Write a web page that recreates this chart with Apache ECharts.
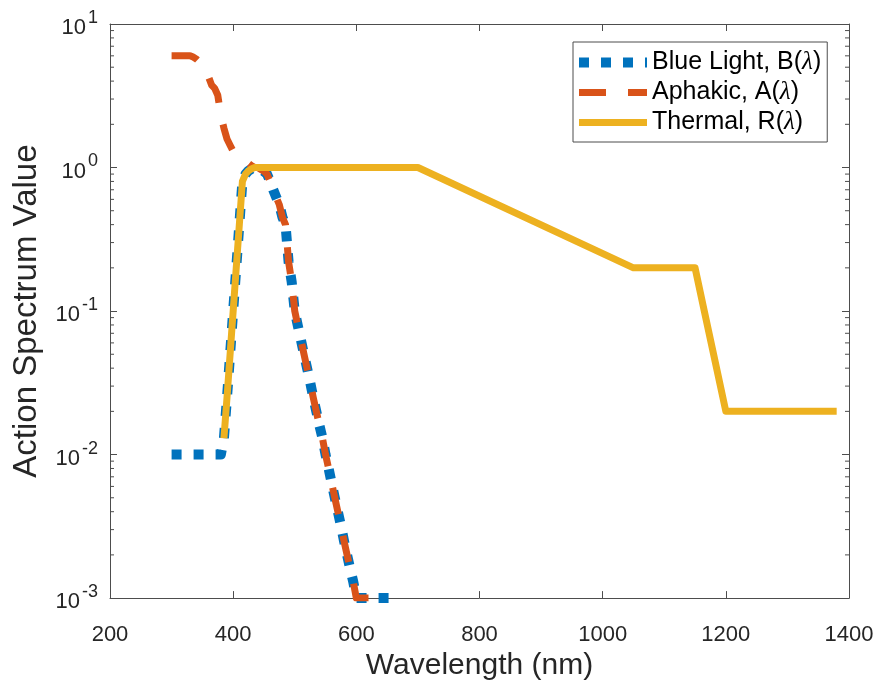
<!DOCTYPE html>
<html>
<head>
<meta charset="utf-8">
<script src="https://cdn.jsdelivr.net/npm/echarts@6/dist/echarts.min.js"></script>
<style>
html,body{margin:0;padding:0;background:#fff;}
#chart{width:881px;height:686px;}
</style>
</head>
<body>
<div id="chart"></div>
<script>
// ---- data ----
const blueName = 'Blue Light, B(λ)';
const aphName = 'Aphakic, A(λ)';
const thermName = 'Thermal, R(λ)';

const blueX = [300, 380, 385, 390, 395, 400, 405, 410, 415, 420, 425, 430, 435, 440, 445, 450, 455, 460, 465, 470, 475, 480, 485, 490, 495, 500, 505, 510, 515, 520, 525, 530, 535, 540, 545, 550, 555, 560, 565, 570, 575, 580, 585, 590, 595, 600, 665];
const blueY = [0.01, 0.01, 0.013, 0.025, 0.05, 0.1, 0.2, 0.4, 0.8, 0.9, 0.95, 0.98, 1.0, 1.0, 0.97, 0.94, 0.9, 0.8, 0.7, 0.62, 0.55, 0.45, 0.4, 0.22, 0.16, 0.1, 0.079, 0.063, 0.05, 0.04, 0.032, 0.025, 0.02, 0.016, 0.013, 0.01, 0.008, 0.0063, 0.005, 0.004, 0.0032, 0.0025, 0.002, 0.0016, 0.0013, 0.001, 0.001];

const aphX = [300, 305, 310, 315, 320, 325, 330, 335, 340, 345, 350, 355, 360, 365, 370, 375, 380, 385, 390, 395, 400, 405, 410, 415, 420, 425, 430, 435, 440, 445, 450, 455, 460, 465, 470, 475, 480, 485, 490, 495, 500, 505, 510, 515, 520, 525, 530, 535, 540, 545, 550, 555, 560, 565, 570, 575, 580, 585, 590, 595, 600, 645];
const aphY = [6.0, 6.0, 6.0, 6.0, 6.0, 6.0, 6.0, 5.88, 5.71, 5.46, 5.22, 4.62, 4.29, 3.75, 3.56, 3.19, 2.31, 1.88, 1.58, 1.43, 1.30, 1.25, 1.20, 1.15, 1.11, 1.07, 1.03, 1.0, 1.0, 0.97, 0.94, 0.9, 0.8, 0.7, 0.62, 0.55, 0.45, 0.4, 0.22, 0.16, 0.1, 0.079, 0.063, 0.05, 0.04, 0.032, 0.025, 0.02, 0.016, 0.013, 0.01, 0.008, 0.0063, 0.005, 0.004, 0.0032, 0.0025, 0.002, 0.0016, 0.0013, 0.001, 0.001];

const thermX = [385, 390, 395, 400, 405, 410, 415, 420, 425, 430, 435, 700, 1050, 1150, 1165, 1185, 1200, 1380];
const thermY = [0.013, 0.025, 0.05, 0.1, 0.2, 0.4, 0.8, 0.9, 0.95, 0.98, 1.0, 1.0, 0.2, 0.2, 0.1, 0.04, 0.02, 0.02];

const xMin = 200, xMax = 1400, xStep = 200;
const yMin = 0.001, yMax = 10;
const minorTickValues = [
  0.002, 0.003, 0.004, 0.005, 0.006, 0.007, 0.008, 0.009,
  0.02, 0.03, 0.04, 0.05, 0.06, 0.07, 0.08, 0.09,
  0.2, 0.3, 0.4, 0.5, 0.6, 0.7, 0.8, 0.9,
  2, 3, 4, 5, 6, 7, 8, 9
];

// ---- chart ----
const FONT = '"Liberation Sans", Arial, Helvetica, sans-serif';
const AXIS_COLOR = '#4d4d4d';
const TEXT_COLOR = '#262626';
const zip = (xs, ys) => xs.map((x, i) => [x, ys[i]]);

const chart = echarts.init(document.getElementById('chart'), null, {renderer: 'canvas'});

const commonX = {
  type: 'value', min: xMin, max: xMax, interval: xStep,
  splitLine: {show: false},
  axisLine: {show: true, onZero: false, lineStyle: {color: AXIS_COLOR, width: 1}},
  axisTick: {show: true, inside: true, length: 7, lineStyle: {color: AXIS_COLOR}},
};
const commonY = {
  type: 'log', logBase: 10, min: yMin, max: yMax, splitNumber: 4,
  splitLine: {show: false},
  axisLine: {show: true, lineStyle: {color: AXIS_COLOR, width: 1}},
  axisTick: {show: true, inside: true, length: 7, lineStyle: {color: AXIS_COLOR}},
};

const option = {
  backgroundColor: '#ffffff',
  animation: false,
  grid: {left: 110, right: 32, top: 24, bottom: 86},
  xAxis: [
    Object.assign({}, commonX, {
      position: 'bottom',
      name: 'Wavelength (nm)', nameLocation: 'middle', nameGap: 50,
      nameTextStyle: {fontSize: 30, color: TEXT_COLOR, fontFamily: FONT},
      axisLabel: {fontSize: 22, color: TEXT_COLOR, fontFamily: FONT, margin: 26,
        formatter: function (v) { return String(v); }}
    }),
    Object.assign({}, commonX, {position: 'top', axisLabel: {show: false}})
  ],
  yAxis: [
    Object.assign({}, commonY, {
      position: 'left',
      name: 'Action Spectrum Value', nameLocation: 'middle', nameGap: 67,
      nameTextStyle: {fontSize: 33, color: TEXT_COLOR, fontFamily: FONT},
      axisLabel: {
        margin: 12,
        formatter: function (v) {
          const e = Math.round(Math.log10(v));
          return '{b|10}{s|' + e + '}';
        },
        rich: {
          b: {fontSize: 22, color: TEXT_COLOR, fontFamily: FONT, verticalAlign: 'bottom', lineHeight: 30},
          s: {fontSize: 18, color: TEXT_COLOR, fontFamily: FONT, verticalAlign: 'top', lineHeight: 18, padding: [0, 0, 0, 2]}
        }
      }
    }),
    Object.assign({}, commonY, {position: 'right', axisLabel: {show: false}})
  ],
  legend: {
    data: [blueName, aphName, thermName],
    orient: 'vertical',
    left: 573, top: 42,
    padding: [8, 6, 7, 1],
    itemGap: 5,
    itemWidth: 68,
    itemHeight: 25,
    backgroundColor: '#ffffff',
    borderColor: AXIS_COLOR,
    borderWidth: 1,
    borderRadius: 0,
    lineStyle: {width: 'inherit'},
    itemStyle: {opacity: 0},
    formatter: function (name) {
      const parts = name.split('λ');
      return '{t|' + parts[0] + '}{l|λ}{t|' + parts[1] + '}';
    },
    textStyle: {
      color: '#000',
      rich: {
        t: {fontSize: 25, fontFamily: FONT, color: '#000'},
        l: {fontSize: 25, fontFamily: '"Liberation Serif", "DejaVu Serif", serif', fontStyle: 'italic', color: '#000'}
      }
    }
  },
  series: [
    {
      name: blueName, type: 'line', data: zip(blueX, blueY),
      showSymbol: false, symbol: 'none', z: 2,
      color: '#0072BD',
      lineStyle: {color: '#0072BD', width: 10, type: [10, 12], cap: 'butt', join: 'round'}
    },
    {
      name: aphName, type: 'line', data: zip(aphX, aphY),
      showSymbol: false, symbol: 'none', z: 3,
      color: '#D95319',
      lineStyle: {color: '#D95319', width: 7, type: [27, 22], cap: 'butt', join: 'round'}
    },
    {
      name: thermName, type: 'line', data: zip(thermX, thermY),
      showSymbol: false, symbol: 'none', z: 4,
      color: '#EDB120',
      lineStyle: {color: '#EDB120', width: 7, type: 'solid', cap: 'butt', join: 'round'}
    },
    {
      name: 'minorTicks', type: 'custom', silent: true, clip: false, z: 1,
      data: minorTickValues.map(v => [xMin, v]),
      encode: {x: 0, y: 1},
      renderItem: function (params, api) {
        const v = api.value(1);
        const pL = api.coord([xMin, v]);
        const pR = api.coord([xMax, v]);
        const st = {stroke: AXIS_COLOR, lineWidth: 1};
        return {
          type: 'group',
          children: [
            {type: 'line', shape: {x1: pL[0], y1: pL[1], x2: pL[0] + 4, y2: pL[1]}, style: st},
            {type: 'line', shape: {x1: pR[0], y1: pR[1], x2: pR[0] - 4, y2: pR[1]}, style: st}
          ]
        };
      }
    }
  ]
};
chart.setOption(option);
</script>
</body>
</html>
